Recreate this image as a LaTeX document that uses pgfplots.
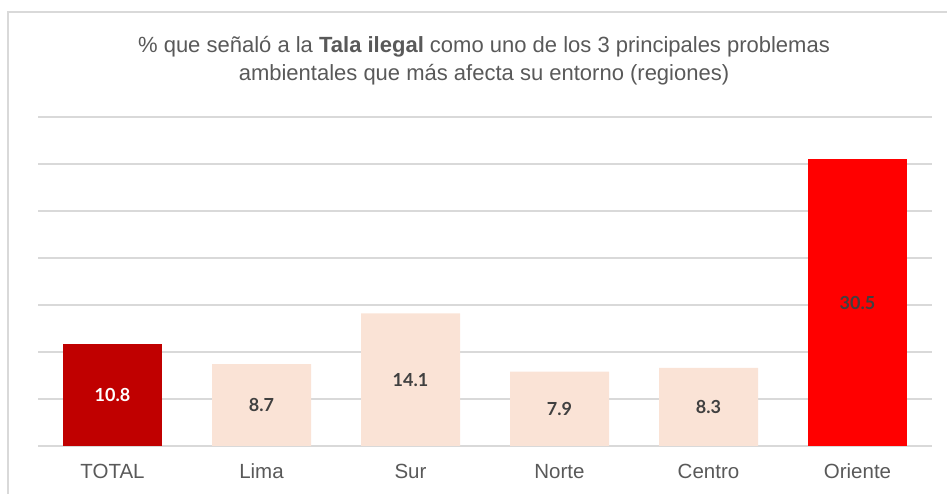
\documentclass[border=0pt]{standalone}
\usepackage{pgfplots}
\pgfplotsset{compat=1.18}
\usepackage{fontspec}
\setmainfont{Liberation Sans}
\newfontfamily\labfont{Lato}
\definecolor{gridc}{HTML}{D9D9D9}
\definecolor{txt}{HTML}{595959}
\definecolor{lab}{HTML}{404040}
\definecolor{darkred}{HTML}{C00000}
\definecolor{peach}{HTML}{FAE3D6}
\definecolor{brightred}{HTML}{FF0000}
\begin{document}
\begin{tikzpicture}[x=1pt,y=1pt]
\useasboundingbox (0,0) rectangle (947,494);
\draw[gridc, line width=2pt] (7.5,0) -- (7.5,482) -- (947,482);
\node[align=center, text=txt, font=\fontsize{22}{28}\selectfont] at (484,433)
  {\% que señaló a la \textbf{Tala ilegal} como uno de los 3 principales problemas\\ambientales que más afecta su entorno (regiones)};
\begin{axis}[
  at={(38pt,48pt)}, anchor=south west,
  scale only axis, width=894pt, height=329pt,
  xmin=-0.5, xmax=5.5, ymin=0, ymax=35,
  ytick={0,5,...,35}, yticklabels={},
  ymajorgrids, grid style={gridc, line width=2pt},
  axis line style={draw=none}, major tick length=0pt,
  xtick={0,1,2,3,4,5},
  xticklabels={TOTAL,Lima,Sur,Norte,Centro,Oriente},
  xticklabel style={anchor=base, yshift=-33pt, text=txt, font=\fontsize{20.5}{24}\selectfont},
  ybar, bar width=99pt, bar shift=0pt,
  visualization depends on=rawy \as \rawy,
  nodes near coords={\pgfmathprintnumber[fixed,fixed zerofill,precision=1,assume math mode=true]{\pgfplotspointmeta}},
  nodes near coords style={anchor=center, font=\labfont\bfseries\fontsize{18}{20}\selectfont,
    shift={(axis direction cs:0,-\rawy/2)}},
  clip=false,
]
\addplot[fill=darkred, draw=none, nodes near coords style={text=white}] coordinates {(0,10.8)};
\addplot[fill=peach, draw=none, nodes near coords style={text=lab}] coordinates {(1,8.7) (2,14.1) (3,7.9) (4,8.3)};
\addplot[fill=brightred, draw=none, nodes near coords style={text=lab}] coordinates {(5,30.5)};
\end{axis}
\end{tikzpicture}
\end{document}
